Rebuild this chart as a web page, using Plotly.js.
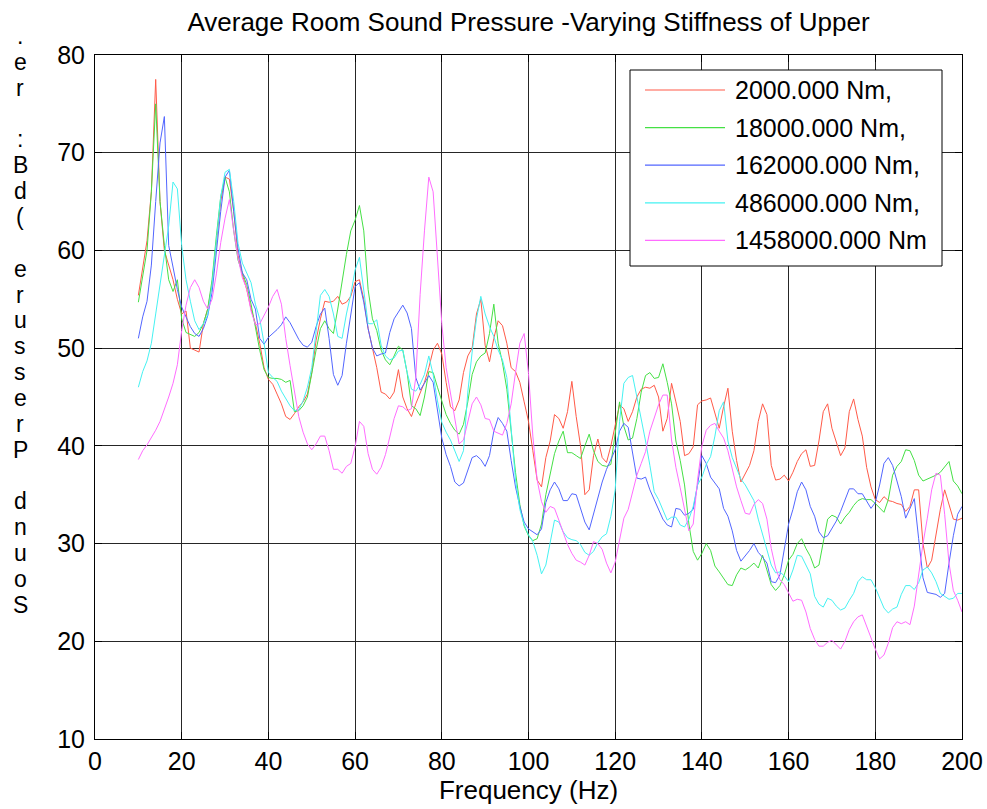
<!DOCTYPE html>
<html>
<head>
<meta charset="utf-8">
<script src="https://cdn.plot.ly/plotly-3.0.1.min.js"></script>
<style>
  html, body { margin: 0; padding: 0; background: #ffffff; }
  #chart { width: 987px; height: 809px; }
</style>
</head>
<body>
<div id="chart"></div>
<script>
// Frequency grid (Hz): one sample per hertz from 10 to 200
const freqHz = Array.from({ length: 191 }, (_, i) => 10 + i);

// Average room sound pressure (dB) for each upper stiffness
const spl2000 = [
  55.4, 58, 61, 66, 77.5, 65, 60, 58.5, 57, 55,
  53.5, 53.8, 50, 49.8, 49.6, 52.5, 54, 56.5, 61, 65,
  67.5, 67.3, 64, 59.5, 57.5, 56, 54, 52.5, 50.5, 48,
  46.8, 46.3, 45.3, 44.3, 43, 42.7, 43.3, 44, 44.5, 45.3,
  47.5, 50.8, 53, 54.8, 54.7, 54.8, 55.3, 54.5, 54.7, 55.3,
  56.8, 57, 55, 52, 50, 48, 45.5, 45.3, 44.8, 45.5,
  47.8, 45, 43.8, 43, 44.3, 45.5, 46.5, 48, 49.8, 50.5,
  49.4, 46.5, 44, 43.6, 44.7, 47.5, 49.2, 50, 53.5, 55,
  50.3, 48.6, 51, 52.8, 52.3, 50.5, 48, 47.6, 46.5, 44.5,
  42.5, 39.5, 36.5, 35.8, 38.8, 40.5, 43.2, 42.8, 41.8, 43.5,
  46.6, 43, 40, 35, 35.5, 39, 40.7, 38.8, 38.3, 40,
  42, 44.2, 43.8, 42.5, 43.5, 45, 45.8, 46, 45.9, 46.2,
  45, 41.5, 42.8, 46.4, 44.5, 42.5, 39, 39.2, 39.9, 44.2,
  44.6, 44.7, 44.9, 43.3, 41.8, 44, 45.9, 41.5, 38.5, 36.3,
  37.2, 38, 39.5, 42.5, 44.3, 43.2, 38, 36.5, 36.6, 37,
  36.4, 37.3, 38.4, 39.2, 39.6, 37.9, 38, 40.5, 43.5, 44.3,
  41.8, 40.5, 39, 39.8, 43.5, 44.8, 42.7, 41, 37.8, 35.8,
  34.5, 34.2, 34.8, 34.4, 34.3, 34.1, 34, 33.3, 33.8, 35.5,
  35.5, 30, 27.5, 28.3, 30.8, 33.5, 35.5, 34, 32.5, 32.4, 32.6
];
const spl18000 = [
  54.7, 57.5, 60, 66, 75, 65, 60.5, 57, 55.8, 57,
  53, 51.6, 51.4, 51.2, 51.6, 52.5, 54, 57, 61.5, 65.5,
  67.5, 66, 62, 59, 57.7, 56.5, 54.5, 52, 49.8, 47.8,
  47, 46.9, 46.9, 46.8, 46.5, 46.7, 43.5, 43.6, 44.1, 45,
  47.5, 49.8, 52, 52.8, 52, 51.5, 54, 57, 59.6, 62,
  63.1, 64.6, 62, 56, 53, 51.8, 49.8, 48.8, 48.3, 49.2,
  50.2, 49.8, 47.5, 44.1, 43.8, 43.1, 45, 47.6, 47.5, 46,
  44.5, 43.2, 42.3, 41.6, 41.2, 42.2, 44.5, 47.3, 48.6, 49.2,
  49.5, 51.5, 54.5, 50.5, 48.5, 45.8, 41.5, 37.3, 34, 31.8,
  30.8, 30.3, 30.5, 32, 35, 37, 39.2, 40.5, 41.5, 39.3,
  39.3, 39, 38.7, 40, 41.2, 39.5, 38.4, 38, 37.9, 38.1,
  41.5, 44.5, 42, 40.6, 40.8, 42.8, 45.5, 47.2, 47.5, 46.9,
  47, 48.4, 46.5, 44.3, 40.5, 38.5, 36, 32, 29.2, 28.3,
  29, 30, 29.3, 27.7, 27.1, 26.4, 25.8, 25.7, 26.8, 27.5,
  27.3, 27.6, 28, 27.5, 28.8, 27.3, 25.8, 25.2, 25.7, 26.8,
  28.3, 28.9, 30, 30.5, 29.5, 28.7, 27.5, 27.8, 30.3, 32.5,
  32.9, 32.7, 32, 32.7, 33.2, 33.9, 34.4, 34.6, 34.5, 34.5,
  34.1, 33.7, 33.2, 34.5, 37, 37.9, 38.4, 39.6, 39.5, 38.5,
  37, 36.4, 36.6, 36.8, 37, 37.3, 37.8, 38.4, 36.4, 35.9, 35.1
];
const spl162000 = [
  51, 53.2, 54.8, 58.5, 65, 71, 73.7, 60.5, 58.3, 56,
  54.2, 53.1, 52.2, 51.5, 51.2, 52, 53.3, 55.7, 60, 64,
  67.5, 68.2, 64, 60.2, 57.7, 57, 55, 54, 51, 50.4,
  51.1, 51.5, 51.9, 52.4, 53.2, 52.6, 51.8, 50.9, 50.3, 50.1,
  50.6, 52.2, 53.5, 54.1, 51, 47.3, 46.2, 47.2, 50.5, 53.5,
  56.3, 56.7, 54.7, 52, 50, 49.2, 49.4, 49.5, 51.6, 53,
  53.7, 54.4, 53.6, 52, 47, 45.7, 46.4, 47.2, 46.5, 43.5,
  40.8, 39.1, 37.9, 36.3, 35.9, 36.2, 37.5, 38.8, 39, 38.6,
  37.9, 39, 41.5, 42.9, 42.3, 41.5, 38.5, 35.8, 33.8, 32.2,
  31.5, 31.2, 30.9, 31.5, 34.2, 35.5, 36.3, 35.6, 34.4, 34.4,
  35.1, 35, 33.5, 32.2, 31.4, 33.1, 34.8, 36.3, 37.6, 38.6,
  39.6, 41.5, 42.3, 41.9, 39.5, 36.7, 36.6, 36.8, 35.5, 34.5,
  33.5, 32.5, 31.9, 31.7, 33.6, 33.5, 32.9, 33.1, 33.5, 36,
  39, 38.2, 36.8, 36.2, 35.6, 33.6, 32.8, 31.3, 29.3, 28.2,
  28.7, 29.3, 30, 29.1, 28.6, 28, 26.1, 26, 26.8, 29.5,
  32, 33.5, 35.3, 36.3, 35.5, 33.8, 32.8, 31.2, 30.6, 30.8,
  31.5, 32.3, 33.3, 34.5, 35.6, 35.6, 35.1, 35.1, 34.3, 33.6,
  34.2, 36, 38.2, 38.8, 38, 36.5, 34.8, 32.6, 33.7, 34.6,
  30.5, 26.5, 25, 24.9, 24.8, 24.5, 24.9, 28, 30.8, 33, 33.8
];
const spl486000 = [
  46, 47.6, 48.7, 50.5, 53.5, 56.5, 60, 62.5, 67, 66.3,
  60.5, 57, 54.8, 52.8, 51.9, 52.5, 53.4, 56.5, 61, 65.5,
  68, 68.3, 65, 60.7, 58.7, 57.7, 56.7, 54.5, 53, 50.5,
  47.5, 47, 46.6, 45.6, 44.8, 44.1, 43.6, 43.7, 44.6, 46,
  48, 51.5, 55.4, 56, 55.3, 53.5, 51.2, 51, 53.5, 55.5,
  58, 59.3, 56, 52.5, 52.5, 52.9, 50.3, 49.2, 48.8, 49,
  49.7, 49.8, 47.5, 45.8, 45.6, 46.3, 47.3, 49.2, 47.3, 44.6,
  42.4, 41.4, 40.6, 39.5, 38.4, 39.5, 45.5, 49.6, 53, 55.3,
  53.5, 52.2, 51.2, 49.8, 48.8, 47, 42, 36.5, 33.5, 31.9,
  30.9, 30.2, 28.8, 26.9, 27.8, 30.3, 32.4, 32.2, 31.2, 30.6,
  30.4, 30.3, 29.9, 29.1, 28.8, 29.2, 30.1, 30.7, 31, 32.8,
  35.5, 42.5, 46.4, 47, 47.2, 45, 42.8, 40.5, 38, 35.3,
  34.5, 33.5, 32.4, 32.7, 32.7, 31.9, 31.7, 32.5, 33.8, 36,
  36.8, 38.1, 38.9, 41, 43.6, 44.5, 40.5, 38.8, 37.6, 36.6,
  36, 35.2, 34.4, 32.5, 31, 29.5, 27.8, 27, 27.1, 26.7,
  26.1, 27.3, 28.8, 28.7, 27.8, 26.9, 24.6, 23.8, 23.5, 24.4,
  24.2, 23.6, 23.2, 23.4, 24.2, 24.9, 26.1, 26.6, 26.3, 26.3,
  25.5, 24.4, 23.4, 22.9, 23.3, 23.5, 24.8, 25.7, 25.7, 25.3,
  26, 27.3, 27.6, 27, 26.1, 24.9, 24.6, 24.3, 24.4, 24.9, 24.9
];
const spl1458000 = [
  38.6, 39.5, 40.1, 40.8, 41.6, 42.5, 43.7, 45, 46.4, 48.3,
  51.8, 54.4, 56.2, 57, 56.2, 54.8, 54, 55, 57.6, 60.8,
  63.3, 65.2, 62, 59.2, 57.2, 56.1, 53.8, 52.4, 52.5, 53.3,
  54.2, 55.3, 56, 54.5, 51, 48.2, 45.4, 43, 41.4, 40.2,
  39.6, 40.2, 41, 41, 39.5, 37.6, 37.6, 37.2, 37.9, 38.2,
  39.9, 42.5, 42, 39.2, 37.6, 37.1, 37.8, 39.1, 40.9, 42.8,
  44.1, 44, 43.6, 43.8, 47, 55.5, 62, 67.5, 66, 59.5,
  52.5, 48, 45.3, 43, 40.2, 40.6, 42.5, 44.3, 45, 44.2,
  42.8, 42.7, 41.5, 41.3, 41.1, 42.3, 44.3, 47.5, 50.5, 51.5,
  47.4, 41, 36.5, 34.3, 33.2, 33.8, 33.6, 32.4, 31.2, 29.9,
  29, 28.3, 28.1, 27.8, 28.8, 30.2, 30, 29.4, 28, 27,
  28.1, 30.5, 32.6, 33.5, 35.3, 37, 38.2, 39.4, 41.5, 42.8,
  44.2, 45.2, 45.2, 40.6, 37.8, 35.7, 33.3, 31.3, 32, 36.5,
  40, 41.6, 42.1, 42.3, 41.5, 40.8, 39.5, 37.5, 35.8, 34.4,
  33.1, 33, 34, 34.5, 34.1, 32.5, 29.5, 27.5, 26.3, 25.8,
  24.9, 24.1, 24.3, 24.2, 23, 21.3, 20.2, 19.5, 19.5, 19.9,
  20.1, 19.6, 19.2, 20, 21.2, 22, 22.5, 22.7, 21.5, 20.3,
  19.2, 18.2, 18.6, 19.8, 21.4, 22, 21.8, 22, 21.7, 23.6,
  27, 30, 32.6, 35.5, 37.2, 37, 33, 28, 25.2, 24.2, 23
];

const seriesValues = [spl2000, spl18000, spl162000, spl486000, spl1458000];
const seriesNames = ['2000.000 Nm,', '18000.000 Nm,', '162000.000 Nm,', '486000.000 Nm,', '1458000.000 Nm'];
const seriesColors = ['#ff5a48', '#45e045', '#5266ff', '#45f2f2', '#ff6cff'];

const xTicks = [0, 20, 40, 60, 80, 100, 120, 140, 160, 180, 200];
const yTicks = [10, 20, 30, 40, 50, 60, 70, 80];

const chartTitle = 'Average Room Sound Pressure -Varying Stiffness of Upper';
const xLabel = 'Frequency (Hz)';
const yLabel = 'Sound Pressure (dB: re.';

// Plot box in page pixels, used to place the legend and the stacked y label
const W = 987, H = 809;
const box = { left: 95, right: 962, top: 55, bottom: 739 };
const px = x => (x - box.left) / (box.right - box.left);
const py = y => (box.bottom - y) / (box.bottom - box.top);

const FONT = 'Liberation Sans, Arial, Helvetica, sans-serif';
const TICK_SIZE = 25, LABEL_SIZE = 26, LEGEND_SIZE = 25, YCHAR_SIZE = 23;

const traces = seriesValues.map((vals, i) => ({
  type: 'scatter',
  mode: 'lines',
  x: freqHz,
  y: vals,
  name: seriesNames[i],
  line: { color: seriesColors[i], width: 1 },
  showlegend: false,
  hoverinfo: 'skip'
}));

const shapes = [];
const annotations = [];

// Boxed legend with long line samples
const legBox = { x0: 630, x1: 942, y0: 70, y1: 266 };
shapes.push({
  type: 'rect', xref: 'paper', yref: 'paper', layer: 'above',
  x0: px(legBox.x0), x1: px(legBox.x1), y0: py(legBox.y1), y1: py(legBox.y0),
  fillcolor: '#ffffff', line: { color: '#000000', width: 1 }
});
seriesNames.forEach((name, i) => {
  const rowY = 90 + i * 37.6;
  shapes.push({
    type: 'line', xref: 'paper', yref: 'paper', layer: 'above',
    x0: px(645), x1: px(725), y0: py(rowY), y1: py(rowY),
    line: { color: seriesColors[i], width: 1.2 }
  });
  annotations.push({
    xref: 'paper', yref: 'paper', x: px(733), y: py(rowY),
    xanchor: 'left', yanchor: 'middle', showarrow: false,
    text: name, font: { family: FONT, size: LEGEND_SIZE, color: '#000000' }
  });
});

// Y label: upright characters stacked bottom-to-top
const yChars = yLabel.split('').reverse();
yChars.forEach((ch, k) => {
  if (ch === ' ') return;
  annotations.push({
    xref: 'paper', yref: 'paper', x: px(20), y: py(36 + k * 25.86),
    xanchor: 'center', yanchor: 'middle', showarrow: false,
    text: ch, font: { family: FONT, size: YCHAR_SIZE, color: '#000000' }
  });
});

const axisCommon = {
  ticks: 'inside', ticklen: 7, tickwidth: 1, tickcolor: '#000000',
  showline: true, linecolor: '#000000', linewidth: 1, mirror: 'ticks',
  showgrid: true, gridcolor: '#262626', gridwidth: 1,
  zeroline: false, fixedrange: true,
  tickfont: { family: FONT, size: TICK_SIZE, color: '#000000' }
};

const layout = {
  width: W, height: H,
  margin: { l: box.left, r: W - box.right, t: box.top, b: H - box.bottom, pad: 0 },
  paper_bgcolor: '#ffffff', plot_bgcolor: '#ffffff',
  font: { family: FONT, color: '#000000' },
  title: {
    text: chartTitle, x: 0.5, xref: 'paper', xanchor: 'center',
    y: 1 - 22 / H, yref: 'container', yanchor: 'middle',
    font: { family: FONT, size: LABEL_SIZE, color: '#000000' }
  },
  xaxis: Object.assign({}, axisCommon, {
    range: [0, 200], tickmode: 'array', tickvals: xTicks, ticktext: xTicks.map(String),
    title: { text: xLabel, standoff: 4, font: { family: FONT, size: LABEL_SIZE, color: '#000000' } }
  }),
  yaxis: Object.assign({}, axisCommon, {
    range: [10, 80], tickmode: 'array', tickvals: yTicks, ticktext: yTicks.map(String),
    ticklabelstandoff: 4
  }),
  shapes: shapes,
  annotations: annotations,
  showlegend: false
};

Plotly.newPlot('chart', traces, layout, { displayModeBar: false, staticPlot: true });
</script>
</body>
</html>
